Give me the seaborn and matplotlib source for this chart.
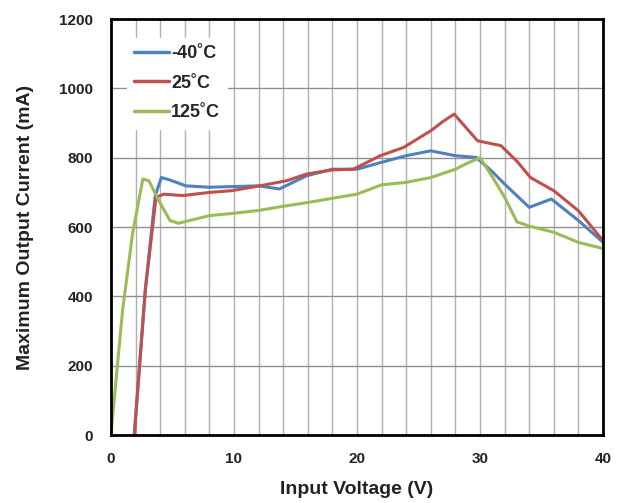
import pandas as pd
import matplotlib.pyplot as plt
import seaborn as sns

# Values
v_cold = [1.9, 2.8, 3.6, 4.1, 4.7, 6.1, 8, 10, 12, 13.7, 15.9, 18, 20, 22, 24, 26, 28, 29.7, 31, 32, 34, 35.8, 38, 40]
i_cold = [0, 420, 690, 743, 737, 719, 715, 717, 719, 710, 748, 767, 767, 787, 806, 820, 806, 801, 760, 724, 657, 681, 619, 556]

v_room = [1.9, 2.8, 3.67, 4.3, 5.85, 8, 9.8, 12.1, 14.3, 15.9, 18, 19.7, 21.9, 23.8, 26, 27, 27.9, 29.8, 31.7, 33, 34.1, 36, 38, 40]
i_room = [0, 420, 686, 695, 691, 700, 705, 719, 734, 753, 765, 767, 806, 830, 878, 905, 926, 849, 835, 790, 743, 705, 647, 561]

v_hot = [0, 0.95, 1.76, 2.6, 3.1, 3.9, 4.8, 5.5, 6.5, 8, 10, 12, 14, 16, 18, 20, 22, 24, 26, 28, 29, 30, 31, 32, 33, 34, 36, 38, 40]
i_hot = [0, 360, 581, 739, 733, 676, 619, 611, 620, 633, 640, 648, 660, 671, 683, 695, 722, 729, 743, 767, 785, 800, 745, 686, 615, 603, 585, 556, 538]

labels = ["-40˚C", "25˚C", "125˚C"]
colors = ["#4F81BD", "#C0504D", "#9BBB59"]

df = pd.concat([
    pd.DataFrame({"V": v_cold, "I": i_cold, "T": labels[0]}),
    pd.DataFrame({"V": v_room, "I": i_room, "T": labels[1]}),
    pd.DataFrame({"V": v_hot, "I": i_hot, "T": labels[2]}),
])

sns.set_style("white")
plt.rcParams["font.family"] = ["Liberation Sans", "DejaVu Sans"]

fig = plt.figure(figsize=(6.23, 5.03), dpi=100)
ax = fig.add_axes([0.178, 0.135, 0.790, 0.827])

sns.lineplot(data=df, x="V", y="I", hue="T", palette=colors, hue_order=labels,
             sort=False, estimator=None, linewidth=2.2, ax=ax)

ax.set_xlim(0, 40)
ax.set_ylim(0, 1200)
ax.set_xticks(range(0, 41, 10))
ax.set_xticks(range(0, 41, 2), minor=True)
ax.set_yticks(range(0, 1201, 200))
ax.grid(True, which="both", axis="x", color="#b0b0b0", linewidth=1)
ax.grid(True, which="major", axis="y", color="#909090", linewidth=1)
ax.tick_params(which="both", length=0, labelsize=11, labelcolor="#222222")
ax.tick_params(axis="x", pad=12)
ax.tick_params(axis="y", pad=13)
for lab in ax.get_xticklabels() + ax.get_yticklabels():
    lab.set_fontweight("bold")
for sp in ax.spines.values():
    sp.set_color("black")
    sp.set_linewidth(2)

ax.set_xlabel("Input Voltage (V)", fontsize=14, fontweight="bold", color="#222222", labelpad=11)
ax.set_ylabel("Maximum Output Current (mA)", fontsize=14, fontweight="bold", color="#222222", labelpad=18)

leg = ax.legend(loc="upper left", bbox_to_anchor=(0.032, 0.955), borderaxespad=0,
                frameon=True, fancybox=False, edgecolor="white", framealpha=1,
                handlelength=1.95, handletextpad=0.1, labelspacing=0.7,
                prop={"weight": "bold", "size": 13})
for line in leg.get_lines():
    line.set_linewidth(2.5)

plt.savefig("out.png", dpi=100)
plt.close()
